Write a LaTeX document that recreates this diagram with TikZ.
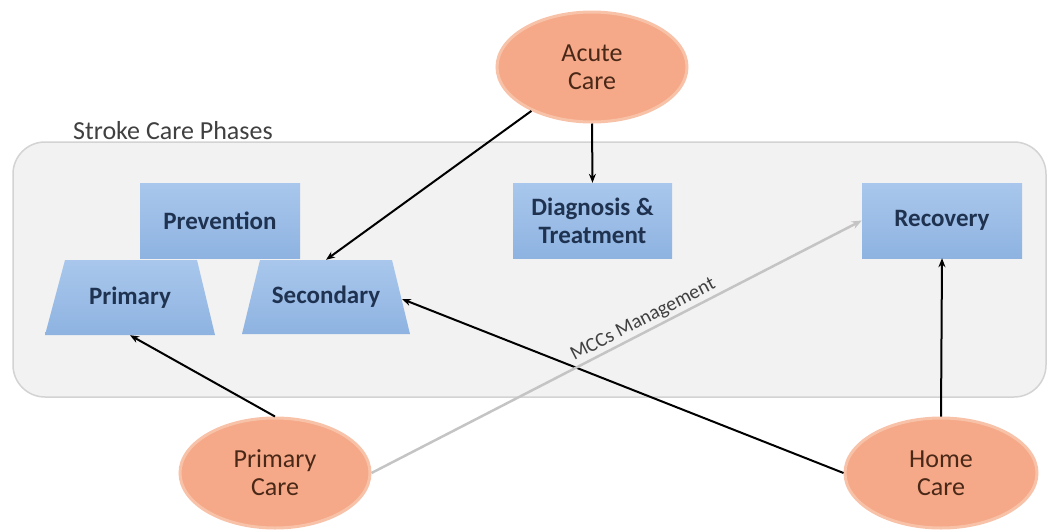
\documentclass[tikz,border=0pt]{standalone}
\usepackage{fontspec}
\setmainfont{Carlito}
\usetikzlibrary{shapes.geometric,arrows.meta}

\definecolor{panelfill}{HTML}{F2F2F2}
\definecolor{paneledge}{HTML}{D3D3D3}
\definecolor{boxtop}{HTML}{A9C7EC}
\definecolor{boxbottom}{HTML}{8EB3E1}
\definecolor{boxtext}{HTML}{1F3250}
\definecolor{carefill}{HTML}{F5A988}
\definecolor{careedge}{HTML}{F8C2A8}
\definecolor{caretext}{HTML}{4A2818}
\definecolor{labelgray}{HTML}{404040}
\definecolor{mccline}{HTML}{C4C4C4}

\tikzset{
  boxfont/.style={text=boxtext, font=\fontsize{25}{28}\selectfont\bfseries},
  phasebox/.style={rectangle, top color=boxtop, bottom color=boxbottom,
    minimum width=160, minimum height=75, inner sep=0pt, align=center, boxfont},
  trapshade/.style={top color=boxtop, bottom color=boxbottom},
  traplabel/.style={rectangle, minimum width=170, minimum height=75,
    inner sep=0pt, boxfont},
  careoval/.style={ellipse, fill=carefill, draw=careedge, line width=3pt,
    minimum width=190, minimum height=110, inner sep=0pt, align=center,
    text=caretext, font=\fontsize{26}{28}\selectfont},
  link/.style={draw=black, line width=2pt, -{Stealth[length=9pt,width=7pt]}},
  mcclink/.style={draw=mccline, line width=2.5pt, -{Stealth[length=10pt,width=8pt]}},
}

\begin{document}
\begin{tikzpicture}[x=1pt, y=-1pt]
  \useasboundingbox (0,0) rectangle (1050,531);

  % stroke care phases panel
  \draw[fill=panelfill, draw=paneledge, line width=1.5pt, rounded corners=32pt]
    (13,142) rectangle (1046,397);
  \node[anchor=base west, text=labelgray, font=\fontsize{26}{28}\selectfont, inner sep=0pt]
    (title) at (73,139) {Stroke Care Phases};

  % prevention: primary and secondary trapezia
  \shade[trapshade] (65,260) -- (197,260) -- (215,335) -- (45,335) -- cycle;
  \shade[trapshade] (260,260) -- (392,260) -- (410,334) -- (242,334) -- cycle;
  \node[traplabel] (prim) at (130,297.5) {Primary};
  \node[traplabel, minimum width=168, minimum height=74] (sec) at (326,297) {Secondary};
  \coordinate (secR) at (402,299);

  % phases
  \node[phasebox] (prev) at (220,220.5) {Prevention};
  \node[phasebox, minimum width=159] (diag) at (592.5,220.5) {Diagnosis \&\\Treatment};
  \node[phasebox] (rec) at (942,220.5) {Recovery};

  % care settings
  \node[careoval] (acute) at (592,67) {Acute\\Care};
  \node[careoval] (pcare) at (275,473) {Primary\\Care};
  \node[careoval, minimum width=192] (hcare) at (941,473) {Home\\Care};

  % connections
  \draw[link] (acute) -- (sec.north);
  \draw[link] (acute.south) -- (diag.north);
  \draw[link] (pcare.north) -- (prim.south);
  \draw[link] (hcare.west) -- (secR);
  \draw[link] (hcare.north) -- (rec.south);
  \draw[mcclink] (pcare.east) -- (rec.west)
    node[pos=0.565, sloped, above, inner sep=2pt, text=labelgray,
         font=\fontsize{20}{22}\selectfont] (mcc) {MCCs Management};
\end{tikzpicture}
\end{document}
